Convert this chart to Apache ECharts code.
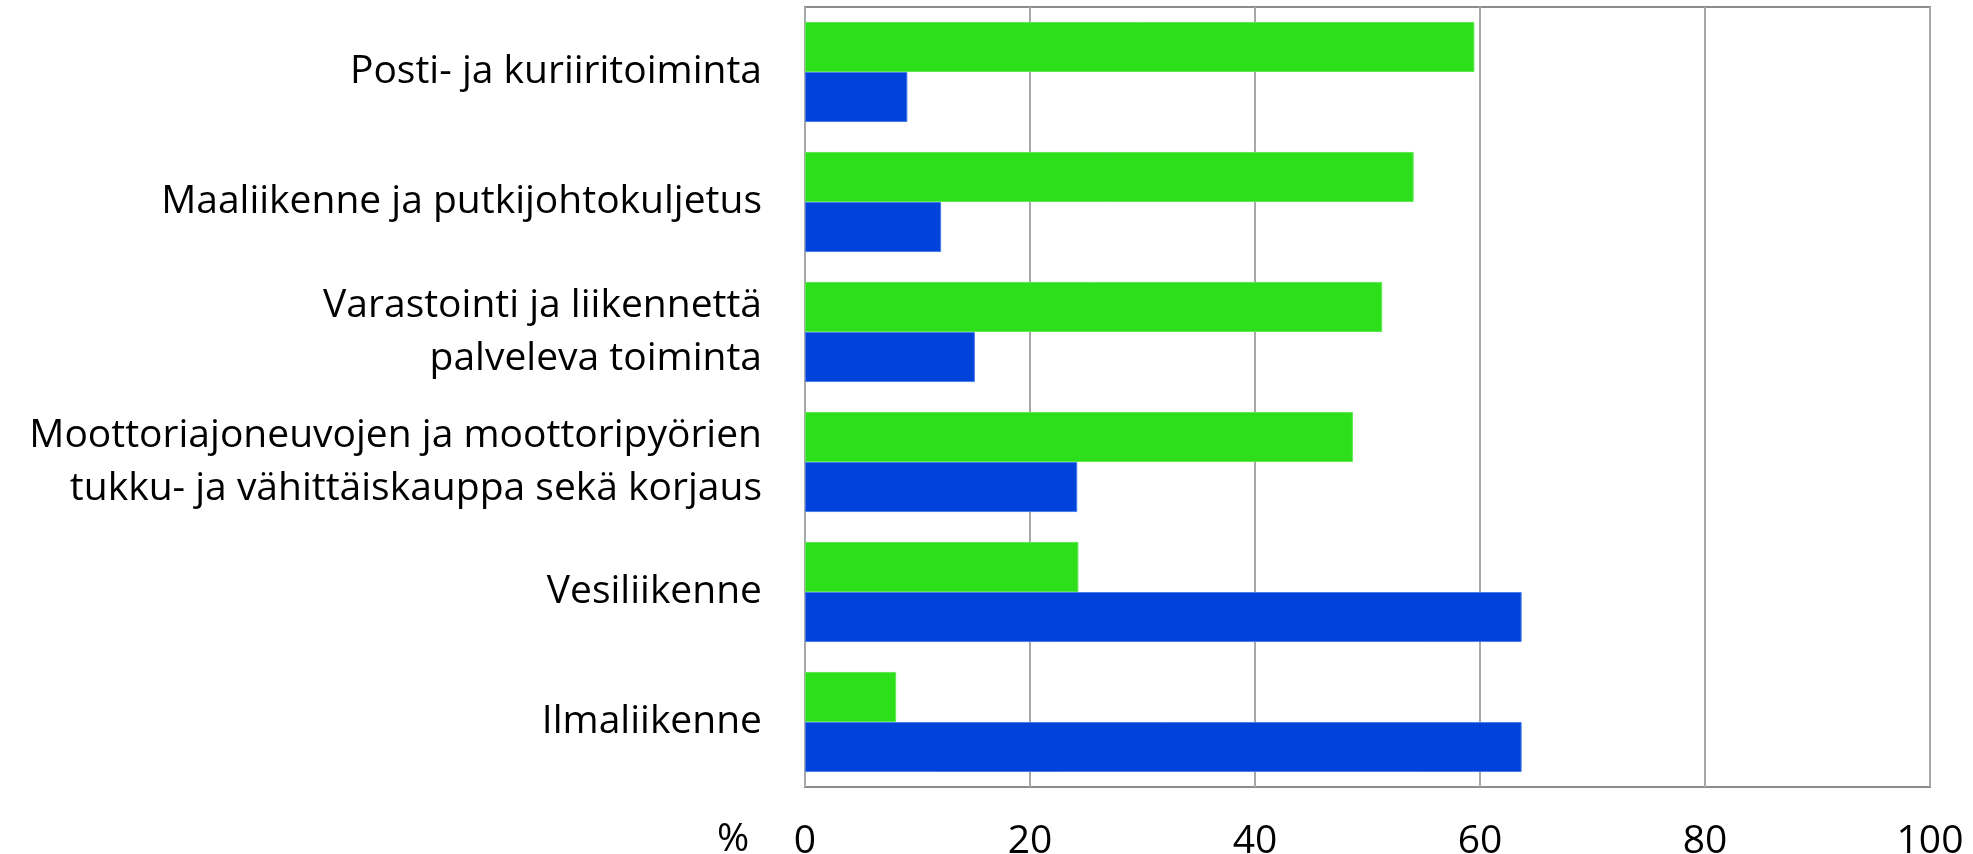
<!DOCTYPE html>
<html>
<head>
<meta charset="utf-8">
<script src="https://cdn.jsdelivr.net/npm/echarts@6/dist/echarts.min.js"></script>
<style>
  html, body { margin: 0; padding: 0; background: #fff; }
  #chart { width: 1973px; height: 854px; }
</style>
</head>
<body>
<div id="chart"></div>
<script>
  // toimialat ylhäältä alas
  var categories = [
    'Posti- ja kuriiritoiminta',
    'Maaliikenne ja putkijohtokuljetus',
    'Varastointi ja liikennettä\npalveleva toiminta',
    'Moottoriajoneuvojen ja moottoripyörien\ntukku- ja vähittäiskauppa sekä korjaus',
    'Vesiliikenne',
    'Ilmaliikenne'
  ]
  var greenValues = [59.5, 54.1, 51.3, 48.7, 24.3, 8.1]
  var blueValues = [9.1, 12.1, 15.1, 24.2, 63.7, 63.7]
  var xTicks = [0, 20, 40, 60, 80, 100]

  var fontName = 'Open Sans'
  var fontSize = 39
  var myChart = echarts.init(document.getElementById('chart'))

  var option = {
    animation: false,
    textStyle: { fontFamily: fontName },
    grid: {
      left: 805,
      top: 7,
      width: 1125,
      height: 780,
      show: true,
      borderColor: '#8c8c8c',
      borderWidth: 2,
      containLabel: false,
      outerBoundsMode: 'none'
    },
    xAxis: {
      type: 'value',
      min: xTicks[0],
      max: xTicks[xTicks.length - 1],
      interval: 20,
      axisLine: { show: false },
      axisTick: { show: false },
      splitLine: { show: true, lineStyle: { color: '#a8a8a8', width: 2 } },
      axisLabel: {
        fontFamily: fontName,
        fontSize: fontSize,
        color: '#000',
        margin: 35
      }
    },
    yAxis: {
      type: 'category',
      inverse: true,
      data: categories,
      axisLine: { show: false },
      axisTick: { show: false },
      splitLine: { show: false },
      axisLabel: {
        fontFamily: fontName,
        fontSize: fontSize,
        lineHeight: 53,
        color: '#000',
        margin: 43,
        align: 'right'
      }
    },
    graphic: [{
      type: 'text',
      left: 717,
      top: 820,
      style: { text: '%', fontFamily: fontName, fontSize: fontSize, fill: '#000' }
    }],
    series: [
      {
        name: 'vihreä',
        type: 'bar',
        data: greenValues,
        barGap: '0%',
        barCategoryGap: '23%',
        itemStyle: { color: '#2ddf1a', borderColor: '#5ee852', borderWidth: 1 }
      },
      {
        name: 'sininen',
        type: 'bar',
        data: blueValues,
        barGap: '0%',
        barCategoryGap: '23%',
        itemStyle: { color: '#0042da', borderColor: '#4a7de8', borderWidth: 1 }
      }
    ]
  }
  myChart.setOption(option)
</script>
</body>
</html>
